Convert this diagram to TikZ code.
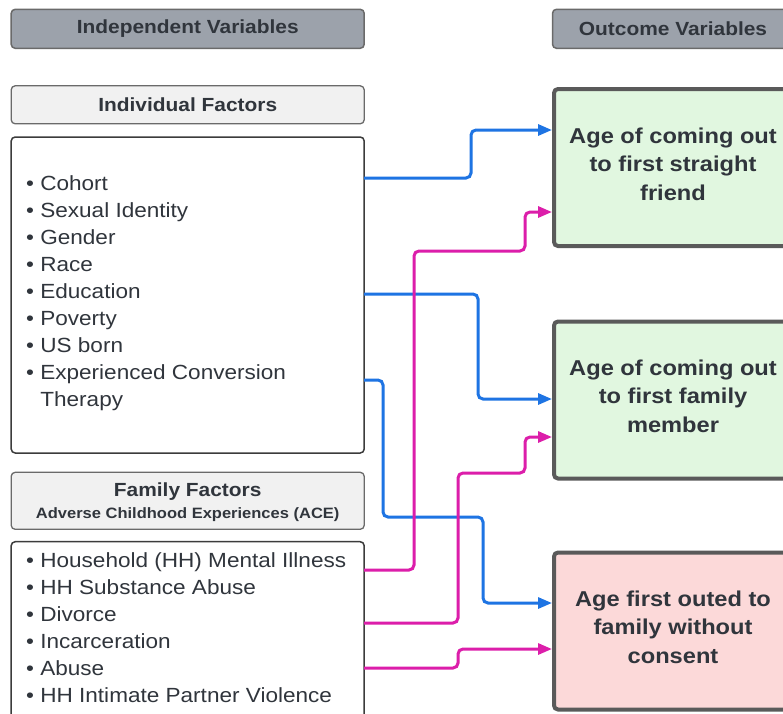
\documentclass[tikz,border=0pt]{standalone}
\usepackage{fontspec}
\setmainfont{Liberation Sans}[FakeStretch=1.1]
\usetikzlibrary{arrows.meta}
\definecolor{hdrfill}{HTML}{9CA2AB}
\definecolor{hdrdraw}{HTML}{6A6A6A}
\definecolor{txt}{HTML}{30353C}
\definecolor{subfill}{HTML}{F1F1F1}
\definecolor{listdraw}{HTML}{3C3C3C}
\definecolor{outdraw}{HTML}{5A5A5A}
\definecolor{greenfill}{HTML}{E1F7E0}
\definecolor{redfill}{HTML}{FCD9D9}
\definecolor{cblue}{HTML}{1E74E3}
\definecolor{cmag}{HTML}{DC1EAA}
\tikzset{
  hdr/.style={draw=hdrdraw, fill=hdrfill, line width=1.5pt, rounded corners=4pt, text=txt,
    font=\bfseries\fontsize{19}{22}\selectfont, inner sep=0pt},
  subhdr/.style={draw=hdrdraw, fill=subfill, line width=1.3pt, rounded corners=4pt, text=txt,
    font=\bfseries\fontsize{19}{22}\selectfont, inner sep=0pt, align=center},
  listbox/.style={draw=listdraw, fill=white, line width=1.5pt, rounded corners=4pt, inner sep=0pt},
  listtext/.style={text=txt, font=\fontsize{20.5}{27}\selectfont, inner sep=0pt},
  outbox/.style={draw=outdraw, line width=4pt, rounded corners=4pt, minimum width=238pt, minimum height=157pt, inner sep=0pt},
  outtext/.style={text=txt, align=center, font=\bfseries\fontsize{21.5}{28.5}\selectfont},
  conn/.style={line width=3pt, rounded corners=5pt, -{Triangle[length=14pt,width=11pt]}},
  bl/.style={conn, draw=cblue},
  mg/.style={conn, draw=cmag}
}
\begin{document}
\begin{tikzpicture}[x=1pt,y=-1pt]
\useasboundingbox (0,0) rectangle (783,713);
\clip (0,0) rectangle (783,713);
\fill[white] (0,0) rectangle (783,713);
% headers
\node[hdr, minimum width=353pt, minimum height=39pt] (iv) at (187.7,28.8) {Independent Variables};
\node[hdr, minimum width=241pt, minimum height=39pt] (ov) at (673,28.8) {Outcome Variables};
% individual factors
\node[subhdr, minimum width=353pt, minimum height=38pt] (indh) at (187.7,104.8) {Individual Factors};
\node[listbox, minimum width=353pt, minimum height=316pt] (indbox) at (187.7,295) {};
\node[listtext, anchor=base west] (indlist) at (26,190) {\begin{tabular}[t]{@{}l@{}}
• Cohort\\
• Sexual Identity\\
• Gender\\
• Race\\
• Education\\
• Poverty\\
• US born\\
• Experienced Conversion\\
\phantom{• }Therapy
\end{tabular}};
% family factors
\node[subhdr, minimum width=353pt, minimum height=57pt] (famh) at (187.7,500.8) {};
\node[text=txt, align=center, font=\bfseries\fontsize{19}{22}\selectfont, inner sep=0pt] (famht) at (187.7,502.5)
  {Family Factors\\[0pt]{\fontsize{15}{18}\selectfont Adverse Childhood Experiences (ACE)}};
\node[listbox, minimum width=353pt, minimum height=200pt] (fambox) at (187.7,641.7) {};
\node[listtext, anchor=base west] (famlist) at (26,567) {\begin{tabular}[t]{@{}l@{}}
• Household (HH) Mental Illness\\
• HH Substance Abuse\\
• Divorce\\
• Incarceration\\
• Abuse\\
• HH Intimate Partner Violence
\end{tabular}};
% outcomes
\node[outbox, fill=greenfill] (o1) at (673,167.5) {};
\node[outbox, fill=greenfill] (o2) at (673,400) {};
\node[outbox, fill=redfill] (o3) at (673,631) {};
\node[outtext] (o1t) at (673,164) {Age of coming out\\to first straight\\friend};
\node[outtext] (o2t) at (673,396) {Age of coming out\\to first family\\member};
\node[outtext] (o3t) at (673,627) {Age first outed to\\family without\\consent};
% connector ends
\coordinate (s1) at (364,178);
\coordinate (s2) at (364,294);
\coordinate (s3) at (364,380);
\coordinate (m1) at (364,570);
\coordinate (m2) at (364,623);
\coordinate (m3) at (364,668);
\coordinate (t1) at (552,130);
\coordinate (t2) at (552,399);
\coordinate (t3) at (552,603);
\coordinate (u1) at (552,212);
\coordinate (u2) at (552,437);
\coordinate (u3) at (552,649);
% connectors
\draw[bl] (s1) -| (471,130) -- (t1);
\draw[bl] (s2) -| (478,399) -- (t2);
\draw[bl] (s3) -| (383,517) -| (483,603) -- (t3);
\draw[mg] (m1) -| (414,251) -| (525,212) -- (u1);
\draw[mg] (m2) -| (458,473) -| (525,437) -- (u2);
\draw[mg] (m3) -| (458,649) -- (u3);
\end{tikzpicture}
\end{document}
